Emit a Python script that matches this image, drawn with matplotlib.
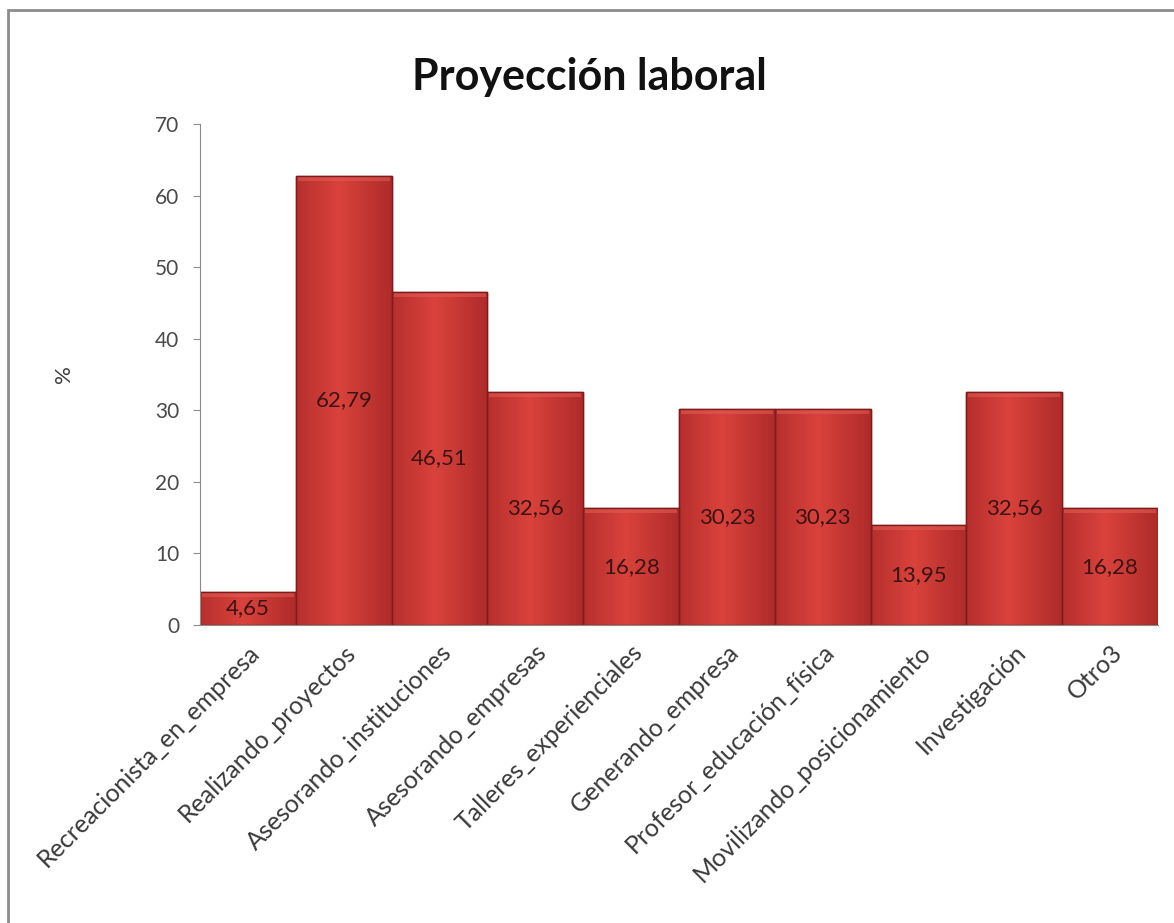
import numpy as np
import matplotlib.pyplot as plt
from matplotlib.patches import Rectangle

# Data
categorias = ['Recreacionista_en_empresa', 'Realizando_proyectos', 'Asesorando_instituciones',
              'Asesorando_empresas', 'Talleres_experienciales', 'Generando_empresa',
              'Profesor_educación_física', 'Movilizando_posicionamiento', 'Investigación', 'Otro3']
valores = [4.65, 62.79, 46.51, 32.56, 16.28, 30.23, 30.23, 13.95, 32.56, 16.28]
etiquetas = ['4,65', '62,79', '46,51', '32,56', '16,28', '30,23', '30,23', '13,95', '32,56', '16,28']

plt.rcParams['font.family'] = ['Lato', 'DejaVu Sans']

fig = plt.figure(figsize=(11.74, 9.23), dpi=100)
ax = fig.add_axes([0.1704, 0.3229, 0.8160, 0.5428])

x = np.arange(len(valores))
bars = ax.bar(x, valores, width=1.0, color='#d03a36', edgecolor='#7e1c1c', linewidth=1.0, zorder=2)

# horizontal gradient inside each bar to mimic the excel bevel look
grad = np.linspace(0, 1, 256)
prof = 1 - np.abs(grad - 0.45) * 1.5
prof = np.clip(prof, 0, 1)
c_dark = np.array([165, 38, 38]) / 255
c_light = np.array([218, 66, 60]) / 255
img = c_dark[None, :] + (c_light - c_dark)[None, :] * prof[:, None]
img = img[None, :, :]
for b in bars:
    x0, w, h = b.get_x(), b.get_width(), b.get_height()
    im = ax.imshow(img, extent=[x0, x0 + w, 0, h], aspect='auto', zorder=2.1)
    im.set_clip_path(b)
    # light bevel on top of each bar
    ax.add_patch(Rectangle((x0 + 0.02, h - 0.7), w - 0.04, 0.7, facecolor='#e25a54',
                           edgecolor='none', alpha=0.6, zorder=2.2))
    ax.add_patch(Rectangle((x0, 0), w, h, facecolor='none', edgecolor='#7e1c1c',
                           linewidth=1.0, zorder=2.3))

for xi, v, t in zip(x, valores, etiquetas):
    ax.text(xi, v / 2, t, ha='center', va='center', fontsize=16, color='#3a1414', zorder=3)

ax.set_xlim(-0.5, len(valores) - 0.5)
ax.set_ylim(0, 70)
ax.set_yticks(range(0, 71, 10))
ax.set_xticks(x)
ax.set_xticklabels(categorias, rotation=45, ha='right', rotation_mode='anchor',
                   fontsize=18, color='#3a3a3a')
ax.tick_params(axis='x', length=0, pad=11)
ax.tick_params(axis='y', labelsize=15, labelcolor='#4a4a4a', color='#8c8c8c', length=5, pad=10)

for s in ['top', 'right']:
    ax.spines[s].set_visible(False)
ax.spines['left'].set_color('#8c8c8c')
ax.spines['bottom'].set_color('#8c8c8c')

ax.set_ylabel('%', fontsize=16, color='#3a3a3a', labelpad=58)
fig.text(0.5025, 0.917, 'Proyección laboral', ha='center', va='center', fontsize=31,
         fontweight='bold', color='#111111')

# outer chart frame
fig.add_artist(Rectangle((8 / 1174, -0.05), 1.1, 1 - 10 / 923 + 0.05, transform=fig.transFigure,
                         facecolor='none', edgecolor='#8c8c8c', linewidth=2))

fig.savefig('out.png', dpi=100)
